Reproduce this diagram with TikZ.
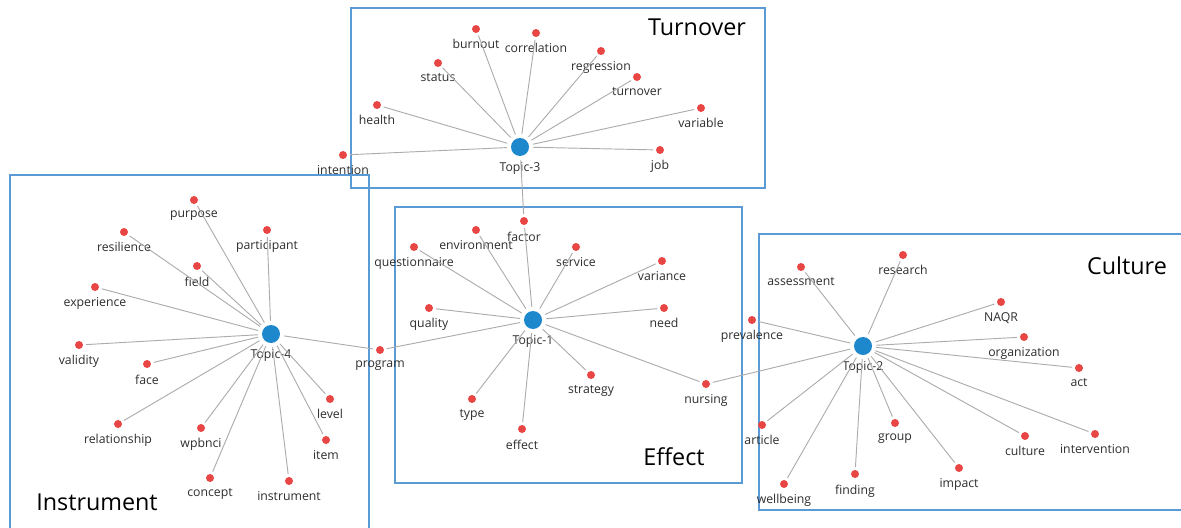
\documentclass[tikz,border=0pt]{standalone}
\usepackage{fontspec}
\setmainfont{Open Sans}
\usepackage{xcolor}
\usetikzlibrary{arrows.meta}
\definecolor{topicblue}{RGB}{30,136,204}
\definecolor{termred}{RGB}{232,69,69}
\definecolor{boxblue}{RGB}{91,155,213}
\definecolor{linegray}{RGB}{172,172,172}
\definecolor{textgray}{RGB}{45,45,45}
\tikzset{
	topic/.style={circle,fill=topicblue,inner sep=0pt,minimum size=13.5pt},
	term/.style={circle,fill=termred,inner sep=0pt,minimum size=6pt},
	lbl/.style={font=\fontsize{9.2}{11}\selectfont,text=textgray,inner sep=1pt,yshift=-3.6pt},
	link/.style={draw=linegray,line width=0.7pt,shorten <=3pt,shorten >=2pt},
	groupbox/.style={draw=boxblue,line width=1pt},
	grouptitle/.style={font=\fontsize{17.5}{20}\selectfont,inner sep=0pt},
}

\begin{document}
\begin{tikzpicture}[x=0.75pt,y=-0.75pt]
				\useasboundingbox (0,0) rectangle (1181,528);
				\clip (0,0) rectangle (1181,528);
				
				% topic groups
				\draw[groupbox] (351,8) rectangle (765,188);
				\draw[groupbox] (10,175) rectangle (369,540);
				\draw[groupbox] (395,207) rectangle (742,483);
				\draw[groupbox] (759,234) rectangle (1190,510);
				\node(turnoverTitle) at (697,27)[grouptitle]{Turnover};
				\node(instrumentTitle) at (97,502)[grouptitle]{Instrument};
				\node(effectTitle) at (674,457)[grouptitle]{Effect};
				\node(cultureTitle) at (1127,266)[grouptitle]{Culture};
				
				% topics
				\node(T3) at (520,147)[topic,label={[lbl]below:Topic-3}]{};
				\node(T4) at (271,334)[topic,label={[lbl]below:Topic-4}]{};
				\node(T1) at (533,320)[topic,label={[lbl]below:Topic-1}]{};
				\node(T2) at (863,346)[topic,label={[lbl]below:Topic-2}]{};
				
				% Topic-3 terms
				\node(burnout) at (476,29)[term,label={[lbl]below:burnout}]{};
				\node(correlation) at (536,33)[term,label={[lbl]below:correlation}]{};
				\node(status) at (438,63)[term,label={[lbl]below:status}]{};
				\node(regression) at (601,51)[term,label={[lbl]below:regression}]{};
				\node(turnover) at (637,77)[term,label={[lbl]below:turnover}]{};
				\node(health) at (377,105)[term,label={[lbl]below:health}]{};
				\node(variable) at (701,108)[term,label={[lbl]below:variable}]{};
				\node(intention) at (343,155)[term,label={[lbl]below:intention}]{};
				\node(job) at (660,150)[term,label={[lbl]below:job}]{};
				\node(factor) at (524,221)[term,label={[lbl]below:factor}]{};
				
				% Topic-4 terms
				\node(purpose) at (194,200)[term,label={[lbl]below:purpose}]{};
				\node(participant) at (267,230)[term,label={[lbl]below:participant}]{};
				\node(resilience) at (124,232)[term,label={[lbl]below:resilience}]{};
				\node(field) at (197,266)[term,label={[lbl]below:field}]{};
				\node(experience) at (95,287)[term,label={[lbl]below:experience}]{};
				\node(validity) at (79,345)[term,label={[lbl]below:validity}]{};
				\node(face) at (147,364)[term,label={[lbl]below:face}]{};
				\node(relationship) at (118,424)[term,label={[lbl]below:relationship}]{};
				\node(wpbnci) at (201,428)[term,label={[lbl]below:wpbnci}]{};
				\node(concept) at (210,478)[term,label={[lbl]below:concept}]{};
				\node(instrument) at (289,481)[term,label={[lbl]below:instrument}]{};
				\node(item) at (326,440)[term,label={[lbl]below:item}]{};
				\node(level) at (330,399)[term,label={[lbl]below:level}]{};
				\node(program) at (380,350)[term,label={[lbl]below:program}]{};
				
				% Topic-1 terms
				\node(environment) at (476,230)[term,label={[lbl]below:environment}]{};
				\node(questionnaire) at (414,247)[term,label={[lbl]below:questionnaire}]{};
				\node(service) at (576,247)[term,label={[lbl]below:service}]{};
				\node(variance) at (662,261)[term,label={[lbl]below:variance}]{};
				\node(quality) at (429,308)[term,label={[lbl]below:quality}]{};
				\node(need) at (664,308)[term,label={[lbl]below:need}]{};
				\node(strategy) at (591,375)[term,label={[lbl]below:strategy}]{};
				\node(type) at (472,399)[term,label={[lbl]below:type}]{};
				\node(effect) at (522,429)[term,label={[lbl]below:effect}]{};
				\node(nursing) at (706,384)[term,label={[lbl]below:nursing}]{};
				
				% Topic-2 terms
				\node(assessment) at (801,267)[term,label={[lbl]below:assessment}]{};
				\node(research) at (903,255)[term,label={[lbl]below:research}]{};
				\node(prevalence) at (752,320)[term,label={[lbl]below:prevalence}]{};
				\node(NAQR) at (1001,302)[term,label={[lbl]below:NAQR}]{};
				\node(organization) at (1024,337)[term,label={[lbl]below:organization}]{};
				\node(act) at (1079,368)[term,label={[lbl]below:act}]{};
				\node(article) at (762,425)[term,label={[lbl]below:article}]{};
				\node(wellbeing) at (784,484)[term,label={[lbl]below:wellbeing}]{};
				\node(finding) at (855,474)[term,label={[lbl]below:finding}]{};
				\node(group) at (895,423)[term,label={[lbl]below:group}]{};
				\node(impact) at (959,468)[term,label={[lbl]below:impact}]{};
				\node(culture) at (1025,436)[term,label={[lbl]below:culture}]{};
				\node(intervention) at (1095,434)[term,label={[lbl]below:intervention}]{};
				
				\draw[link] (T3) to (burnout);
				\draw[link] (T3) to (correlation);
				\draw[link] (T3) to (status);
				\draw[link] (T3) to (regression);
				\draw[link] (T3) to (turnover);
				\draw[link] (T3) to (health);
				\draw[link] (T3) to (variable);
				\draw[link] (T3) to (intention);
				\draw[link] (T3) to (job);
				\draw[link] (T3) to (factor);
				
				\draw[link] (T4) to (purpose);
				\draw[link] (T4) to (participant);
				\draw[link] (T4) to (resilience);
				\draw[link] (T4) to (field);
				\draw[link] (T4) to (experience);
				\draw[link] (T4) to (validity);
				\draw[link] (T4) to (face);
				\draw[link] (T4) to (relationship);
				\draw[link] (T4) to (wpbnci);
				\draw[link] (T4) to (concept);
				\draw[link] (T4) to (instrument);
				\draw[link] (T4) to (item);
				\draw[link] (T4) to (level);
				\draw[link] (T4) to (program);
				
				\draw[link] (T1) to (factor);
				\draw[link] (T1) to (environment);
				\draw[link] (T1) to (questionnaire);
				\draw[link] (T1) to (service);
				\draw[link] (T1) to (variance);
				\draw[link] (T1) to (quality);
				\draw[link] (T1) to (need);
				\draw[link] (T1) to (strategy);
				\draw[link] (T1) to (type);
				\draw[link] (T1) to (effect);
				\draw[link] (T1) to (program);
				\draw[link] (T1) to (nursing);
				
				\draw[link] (T2) to (assessment);
				\draw[link] (T2) to (research);
				\draw[link] (T2) to (prevalence);
				\draw[link] (T2) to (NAQR);
				\draw[link] (T2) to (organization);
				\draw[link] (T2) to (act);
				\draw[link] (T2) to (article);
				\draw[link] (T2) to (wellbeing);
				\draw[link] (T2) to (finding);
				\draw[link] (T2) to (group);
				\draw[link] (T2) to (impact);
				\draw[link] (T2) to (culture);
				\draw[link] (T2) to (intervention);
				\draw[link] (T2) to (nursing);
			\end{tikzpicture}
\end{document}
